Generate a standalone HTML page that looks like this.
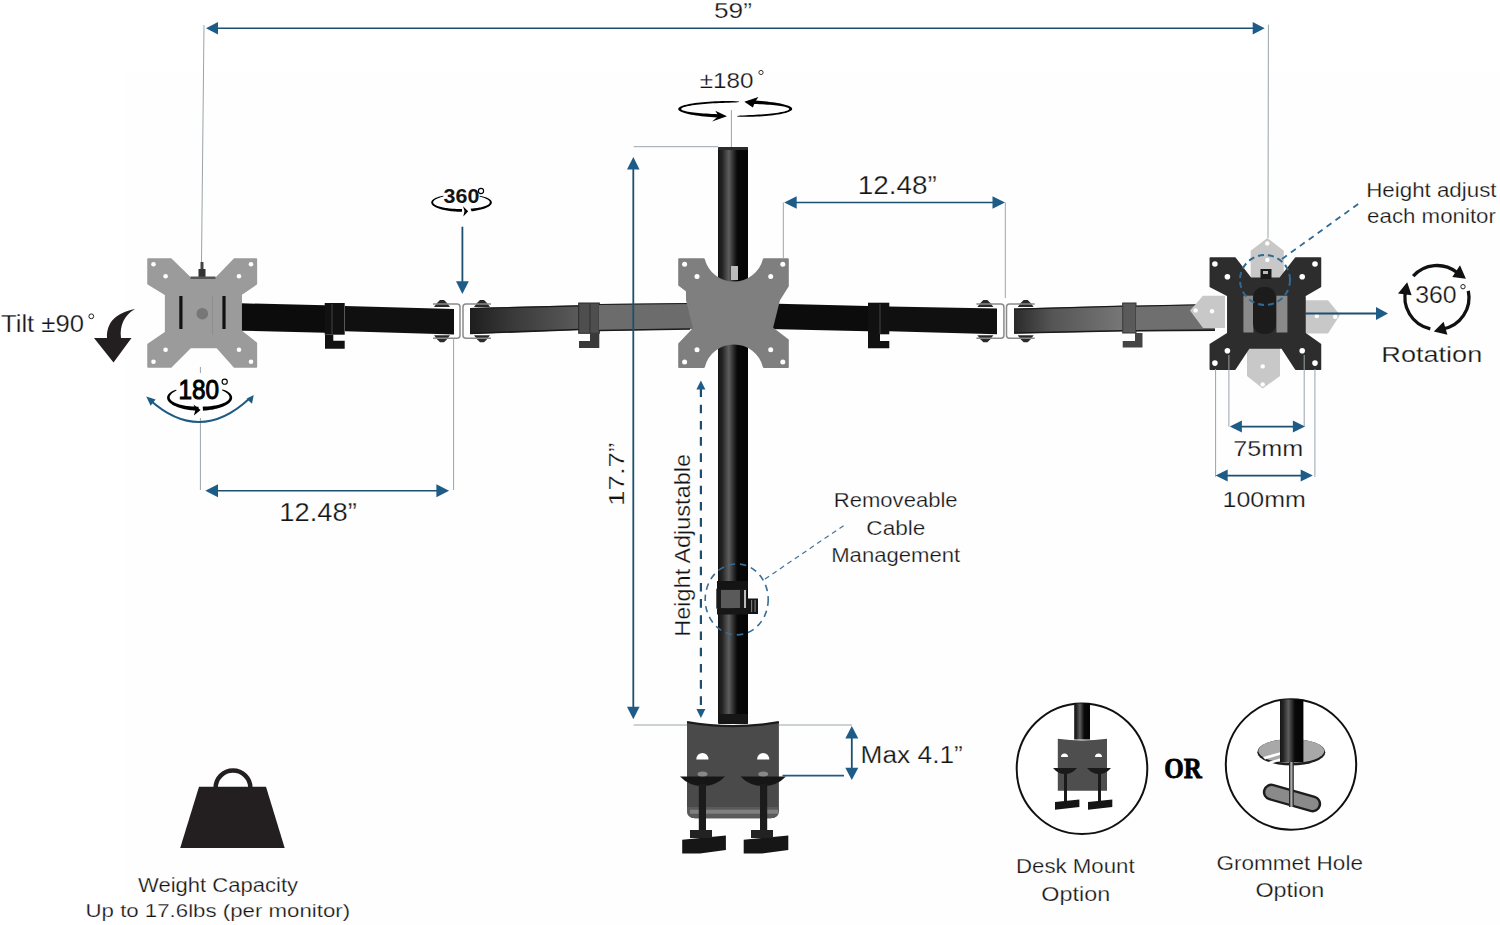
<!DOCTYPE html>
<html><head><meta charset="utf-8"><title>Triple monitor mount</title>
<style>html,body{margin:0;padding:0;background:#fff;} svg{display:block;}</style></head>
<body><svg width="1500" height="925" viewBox="0 0 1500 925">
<defs>
<linearGradient id="pole" x1="0" x2="1" y1="0" y2="0">
 <stop offset="0" stop-color="#141414"/><stop offset="0.15" stop-color="#262626"/>
 <stop offset="0.36" stop-color="#5e5e5e"/><stop offset="0.52" stop-color="#2c2c2c"/>
 <stop offset="0.64" stop-color="#080808"/><stop offset="1" stop-color="#050505"/>
</linearGradient>
<linearGradient id="armg1" x1="0" x2="1" y1="0" y2="0">
 <stop offset="0" stop-color="#1e1e1e"/><stop offset="0.4" stop-color="#3a3a3a"/><stop offset="1" stop-color="#5a5a5a"/>
</linearGradient>
<linearGradient id="armg2" x1="0" x2="1" y1="0" y2="0">
 <stop offset="0" stop-color="#2a2a2a"/><stop offset="0.35" stop-color="#555"/><stop offset="1" stop-color="#777"/>
</linearGradient>
<linearGradient id="blk" x1="0" x2="1" y1="0" y2="0">
 <stop offset="0" stop-color="#0b0b0b"/><stop offset="1" stop-color="#161616"/>
</linearGradient>
</defs>
<rect x="0" y="0" width="1500" height="925" fill="#ffffff"/>
<rect x="125" y="72" width="1375" height="853" fill="#fefefe"/>
<line x1="204" y1="25" x2="201.5" y2="262" stroke="#9aa4a8" stroke-width="1"/>
<line x1="1268.4" y1="24.7" x2="1268" y2="238" stroke="#9aa4a8" stroke-width="1"/>
<line x1="217" y1="28.3" x2="1253.7" y2="28.3" stroke="#1d4f70" stroke-width="1.4"/>
<polygon points="206,28.3 218,22.0 218,34.6" fill="#1e5c88"/>
<polygon points="1264.7,28.3 1252.7,22.0 1252.7,34.6" fill="#1e5c88"/>
<rect x="718" y="147.5" width="30" height="576" fill="url(#pole)"/>
<rect x="718" y="147" width="30" height="3" rx="1" fill="#2a2a2a"/>
<polygon points="241,303.3 325,305.3 325,332.7 241,330.7" fill="#0c0c0c" />
<polygon points="345,306 454,309 454,334.5 345,331.3" fill="#101010" />
<rect x="324.7" y="303" width="20" height="31.7" fill="#111"/>
<line x1="332" y1="304" x2="332" y2="334" stroke="#444" stroke-width="1"/>
<polygon points="325,334.7 333.3,334.7 333.3,340.7 344.7,340.7 344.7,348.7 325,348.7" fill="#111" />
<polygon points="470,308 579,305.3 579,330 470,334" fill="url(#armg1)" />
<line x1="470" y1="308.5" x2="579" y2="305.8" stroke="#1a1a1a" stroke-width="1.2"/><line x1="470" y1="333.5" x2="579" y2="329.5" stroke="#1a1a1a" stroke-width="1.56"/>
<path d="M434,307 L437,303 L440,300 L444,300 L447,303 L450,307 Z" fill="#2a2a2a"/><path d="M434,335.3 L437,339.3 L440,342.3 L444,342.3 L447,339.3 L450,335.3 Z" fill="#2a2a2a"/><path d="M474,307 L477,303 L480,300 L484,300 L487,303 L490,307 Z" fill="#2a2a2a"/><path d="M474,335.3 L477,339.3 L480,342.3 L484,342.3 L487,339.3 L490,335.3 Z" fill="#2a2a2a"/><rect x="454" y="305" width="5" height="32.30000000000001" fill="#fff"/><rect x="464" y="305" width="6" height="32.30000000000001" fill="#fff"/><path d="M433,304 L457,304 Q460,304 460,307 L460,335.3 Q460,338.3 457,338.3 L433,338.3" fill="none" stroke="#8a8a8a" stroke-width="1.5"/><path d="M491,304 L466,304 Q463,304 463,307 L463,335.3 Q463,338.3 466,338.3 L491,338.3" fill="none" stroke="#8a8a8a" stroke-width="1.5"/>
<rect x="578.7" y="303" width="20.6" height="30.3" fill="#4e4e4e" stroke="#2a2a2a" stroke-width="1"/>
<line x1="590" y1="304" x2="590" y2="333" stroke="#2f2f2f" stroke-width="1"/>
<polygon points="590,333 599.3,333 599.3,348 579,348 579,341 590,341" fill="#3a3a3a" />
<polygon points="599,304 700,303 700,329 599,331" fill="#6c6c6c" />
<line x1="599" y1="304.5" x2="690" y2="303.5" stroke="#1a1a1a" stroke-width="1.2"/><line x1="599" y1="330.5" x2="690" y2="329.0" stroke="#1a1a1a" stroke-width="1.56"/>
<polygon points="768,303.6 868,306 868,331.3 768,329" fill="#0c0c0c" />
<rect x="868" y="302.7" width="21.3" height="31.6" fill="#111"/>
<line x1="880" y1="304" x2="880" y2="334" stroke="#444" stroke-width="1"/>
<polygon points="868,334 880,334 880,341 889.3,341 889.3,348.2 868,348.2" fill="#111" />
<polygon points="889,306.4 997,308.6 997,334.3 889,331.3" fill="#101010" />
<polygon points="1014,308.6 1122.7,305.7 1122.7,331.3 1014,333.5" fill="url(#armg2)" />
<line x1="1014" y1="309.1" x2="1122.7" y2="306.2" stroke="#1a1a1a" stroke-width="1.2"/><line x1="1014" y1="333.0" x2="1122.7" y2="330.8" stroke="#1a1a1a" stroke-width="1.56"/>
<path d="M977.4,307 L980.4,303 L983.4,300 L987.4,300 L990.4,303 L993.4,307 Z" fill="#2a2a2a"/><path d="M977.4,335.3 L980.4,339.3 L983.4,342.3 L987.4,342.3 L990.4,339.3 L993.4,335.3 Z" fill="#2a2a2a"/><path d="M1017.7,307 L1020.7,303 L1023.7,300 L1027.7,300 L1030.7,303 L1033.7,307 Z" fill="#2a2a2a"/><path d="M1017.7,335.3 L1020.7,339.3 L1023.7,342.3 L1027.7,342.3 L1030.7,339.3 L1033.7,335.3 Z" fill="#2a2a2a"/><rect x="997.4" y="305" width="5.5" height="32.30000000000001" fill="#fff"/><rect x="1007.5" y="305" width="6.2000000000000455" height="32.30000000000001" fill="#fff"/><path d="M976.4,304 L1000.9,304 Q1003.9,304 1003.9,307 L1003.9,335.3 Q1003.9,338.3 1000.9,338.3 L976.4,338.3" fill="none" stroke="#8a8a8a" stroke-width="1.5"/><path d="M1034.7,304 L1009.5,304 Q1006.5,304 1006.5,307 L1006.5,335.3 Q1006.5,338.3 1009.5,338.3 L1034.7,338.3" fill="none" stroke="#8a8a8a" stroke-width="1.5"/>
<rect x="1122.7" y="303" width="13.3" height="30" fill="#5a5a5a" stroke="#333" stroke-width="1"/>
<polygon points="1135,333 1142.5,333 1142.5,347.5 1122.7,347.5 1122.7,341 1135,341" fill="#444" />
<polygon points="1136,305.7 1215,304 1215,330.6 1136,331.3" fill="#6f6f6f" />
<line x1="1136" y1="306.2" x2="1215" y2="304.5" stroke="#1a1a1a" stroke-width="1.2"/><line x1="1136" y1="330.8" x2="1215" y2="330.1" stroke="#1a1a1a" stroke-width="1.56"/>
<polygon points="148,259 171,259 190.5,278 216,278 234.4,259 256.4,259 256.4,284 241.2,294.5 241.2,331 256.4,343 256.4,367 234.4,367 217,347.5 190.5,347.5 171,367 148,367 148,344.4 165.6,332.3 165.6,294.5 148,283.9" fill="#9b9b9b" stroke="#9b9b9b" stroke-width="1.5" stroke-linejoin="round"/>
<rect x="200.5" y="262" width="3" height="8" fill="#444"/><rect x="198.5" y="269" width="7" height="8" fill="#333"/><rect x="190.5" y="276.5" width="25" height="2.5" fill="#555"/>
<circle cx="153.5" cy="264.2" r="2.3" fill="#fff"/><circle cx="165.6" cy="276.3" r="2.3" fill="#fff"/><circle cx="239" cy="276.3" r="2.3" fill="#fff"/><circle cx="251" cy="264.2" r="2.3" fill="#fff"/><circle cx="165.6" cy="349.7" r="2.3" fill="#fff"/><circle cx="153.5" cy="361.8" r="2.3" fill="#fff"/><circle cx="239" cy="349.7" r="2.3" fill="#fff"/><circle cx="251" cy="361.8" r="2.3" fill="#fff"/>
<rect x="179.3" y="296" width="3.2" height="33" fill="#111"/><rect x="222.4" y="296" width="3.2" height="33" fill="#111"/>
<circle cx="202.3" cy="313.7" r="5.8" fill="#777"/>
<line x1="212.5" y1="296" x2="212.5" y2="335" stroke="#8a8a8a" stroke-width="0.8"/>
<path d="M679.2,259.2 L703.8,259.2 A31 31 0 0 0 763.9,259.2 L787.8,259.2 L787.8,286 L779,300 L772,328 L787.8,340 L787.8,366.9 L763.9,366.9 A31 31 0 0 0 703.8,366.9 L679.2,366.9 L679.2,344 L694,328.5 L687,300 L687,291 L679.2,285 Z" fill="#7f7f7f" stroke="#7f7f7f" stroke-width="2" stroke-linejoin="round"/>
<circle cx="684.6" cy="264.2" r="2.5" fill="#fff"/><circle cx="697" cy="276.4" r="2.5" fill="#fff"/><circle cx="770.7" cy="276.4" r="2.5" fill="#fff"/><circle cx="782.8" cy="264.2" r="2.5" fill="#fff"/><circle cx="697" cy="349.7" r="2.5" fill="#fff"/><circle cx="684.6" cy="361.9" r="2.5" fill="#fff"/><circle cx="770.7" cy="349.7" r="2.5" fill="#fff"/><circle cx="782.8" cy="361.9" r="2.5" fill="#fff"/>
<rect x="731" y="266" width="7" height="14" fill="#bbb"/>
<polygon points="1250.7,250.7 1267.3,237.9 1283.8,250.7 1283.8,290 1250.7,290" fill="#c8c8c8" />
<polygon points="1190,310.4 1203,295.7 1225,295.7 1225,327.9 1203,327.9" fill="#c8c8c8" />
<polygon points="1305,300.3 1328,300.3 1340,315 1328,333.4 1305,333.4" fill="#c8c8c8" />
<polygon points="1247,340 1280,340 1280,376 1262.7,388.5 1247,376" fill="#c8c8c8" />
<circle cx="1267.3" cy="243.4" r="2.2" fill="#fff"/><circle cx="1267.3" cy="259.9" r="2.2" fill="#fff"/><circle cx="1195.6" cy="310.4" r="2.2" fill="#fff"/><circle cx="1212" cy="311.3" r="2.2" fill="#fff"/><circle cx="1316.8" cy="316" r="2.2" fill="#fff"/><circle cx="1335.2" cy="316.8" r="2.2" fill="#fff"/><circle cx="1262.7" cy="366.4" r="2.2" fill="#fff"/><circle cx="1262.7" cy="384.4" r="2.2" fill="#fff"/>
<polygon points="1210.3,258 1235,258 1250.7,278.3 1280,278.3 1295.7,258 1320.5,258 1320.5,286.5 1305,295.7 1305,333.4 1320.5,344.4 1320.5,369.2 1295.7,369.2 1282,348 1248.9,348 1235,369.2 1210.3,369.2 1210.3,344.4 1227.8,333.4 1227.8,295.7 1210.3,286.5" fill="#2d2d2d" stroke="#2d2d2d" stroke-width="1.5" stroke-linejoin="round"/>
<rect x="1243.4" y="295.7" width="10" height="36.8" fill="#8a8a8a"/><rect x="1276.4" y="295.7" width="11" height="36.8" fill="#8a8a8a"/>
<rect x="1253" y="287" width="23" height="47" rx="10" fill="#1c1c1c"/>
<rect x="1260.5" y="269" width="11" height="10" fill="#1a1a1a"/><rect x="1263" y="271" width="5" height="3" fill="#bbb"/>
<circle cx="1214.9" cy="264" r="2.8" fill="#fff"/><circle cx="1227.4" cy="276.8" r="2.8" fill="#fff"/><circle cx="1302.2" cy="276.8" r="2.8" fill="#fff"/><circle cx="1315" cy="264" r="2.8" fill="#fff"/><circle cx="1227.4" cy="350.8" r="2.8" fill="#fff"/><circle cx="1214.9" cy="363.1" r="2.8" fill="#fff"/><circle cx="1302.2" cy="350.8" r="2.8" fill="#fff"/><circle cx="1315" cy="363.1" r="2.8" fill="#fff"/>
<line x1="783.3" y1="202.5" x2="783.3" y2="259" stroke="#9aa4a8" stroke-width="1"/>
<line x1="1005.3" y1="202.5" x2="1005.3" y2="298" stroke="#9aa4a8" stroke-width="1"/>
<line x1="795.7" y1="202.5" x2="993.5" y2="202.5" stroke="#1d4f70" stroke-width="1.6"/>
<polygon points="784.2,202.5 796.7,196.25 796.7,208.75" fill="#1e5c88"/>
<polygon points="1005,202.5 992.5,196.25 992.5,208.75" fill="#1e5c88"/>
<line x1="200.4" y1="367" x2="200.4" y2="373" stroke="#9aa4a8" stroke-width="1"/>
<line x1="200.4" y1="418" x2="200.4" y2="490" stroke="#9aa4a8" stroke-width="1"/>
<line x1="453.6" y1="338" x2="453.6" y2="490" stroke="#9aa4a8" stroke-width="1"/>
<line x1="217.0" y1="490.8" x2="437.40000000000003" y2="490.8" stroke="#1d4f70" stroke-width="1.6"/>
<polygon points="205.3,490.8 218.0,484.3 218.0,497.3" fill="#1e5c88"/>
<polygon points="449.1,490.8 436.40000000000003,484.3 436.40000000000003,497.3" fill="#1e5c88"/>
<circle cx="481" cy="191" r="2.6" fill="none" stroke="#000" stroke-width="1.1"/>
<polygon points="443.25,195.82 441.96,195.98 440.77,196.24 439.65,196.52 438.58,196.83 437.58,197.16 436.65,197.51 435.78,197.87 434.98,198.26 434.26,198.65 433.61,199.06 433.03,199.48 432.53,199.92 432.11,200.36 431.77,200.81 431.51,201.26 431.33,201.72 431.23,202.19 431.22,202.66 431.29,203.12 431.44,203.59 431.67,204.06 431.98,204.52 432.38,204.98 432.85,205.44 433.40,205.88 434.03,206.32 434.74,206.75 435.51,207.17 436.36,207.58 437.28,207.97 438.26,208.35 439.31,208.72 440.42,209.07 441.59,209.40 442.81,209.71 444.08,210.01 445.40,210.28 446.77,210.54 448.18,210.77 449.62,210.98 451.10,211.17 452.61,211.33 454.14,211.47 455.69,211.59 457.27,211.68 458.85,211.74 460.44,211.78 462.04,211.80 461.99,209.00 460.54,209.01 459.09,209.00 457.64,208.97 456.21,208.92 454.79,208.86 453.38,208.78 452.00,208.68 450.64,208.57 449.31,208.43 448.01,208.29 446.74,208.12 445.52,207.94 444.33,207.74 443.19,207.53 442.10,207.30 441.07,207.06 440.08,206.81 439.15,206.54 438.29,206.26 437.48,205.97 436.74,205.67 436.06,205.36 435.45,205.04 434.91,204.71 434.44,204.37 434.05,204.02 433.72,203.67 433.48,203.32 433.30,202.96 433.20,202.60 433.18,202.23 433.24,201.87 433.37,201.50 433.57,201.13 433.85,200.77 434.21,200.41 434.64,200.05 435.14,199.69 435.71,199.34 436.36,198.99 437.07,198.65 437.84,198.32 438.68,197.99 439.58,197.67 440.54,197.36 441.55,197.05 442.61,196.74 443.68,196.37" fill="#000"/><polygon points="468.2,211.3 463,206.3 464.5,211 463.3,216.5" fill="#000"/>
<polygon points="471.49,211.29 472.78,211.13 474.04,210.96 475.27,210.77 476.48,210.56 477.65,210.34 478.80,210.10 479.90,209.85 480.97,209.58 482.00,209.30 482.98,209.01 483.93,208.70 484.82,208.38 485.67,208.05 486.47,207.71 487.22,207.36 487.92,207.00 488.56,206.64 489.15,206.26 489.69,205.88 490.16,205.49 490.58,205.10 490.94,204.70 491.24,204.30 491.48,203.90 491.65,203.50 491.77,203.09 491.83,202.69 491.83,202.28 491.76,201.88 491.63,201.48 491.45,201.08 491.20,200.69 490.89,200.30 490.53,199.92 490.10,199.55 489.62,199.18 489.09,198.83 488.49,198.48 487.85,198.14 487.15,197.81 486.40,197.50 485.59,197.20 484.74,196.91 483.85,196.64 482.90,196.38 481.92,196.15 480.88,195.94 479.75,195.82 479.32,196.37 480.23,196.70 481.14,196.97 482.03,197.24 482.87,197.51 483.68,197.78 484.44,198.06 485.15,198.34 485.82,198.63 486.44,198.92 487.01,199.21 487.53,199.51 487.99,199.82 488.41,200.12 488.77,200.43 489.07,200.74 489.32,201.06 489.52,201.37 489.66,201.68 489.74,202.00 489.77,202.31 489.74,202.62 489.66,202.93 489.52,203.24 489.32,203.54 489.07,203.84 488.76,204.14 488.40,204.43 487.99,204.71 487.53,204.99 487.01,205.27 486.44,205.54 485.83,205.80 485.17,206.05 484.46,206.29 483.70,206.53 482.90,206.76 482.06,206.97 481.18,207.18 480.26,207.38 479.30,207.56 478.31,207.74 477.29,207.90 476.24,208.06 475.15,208.20 474.05,208.33 472.91,208.44 471.76,208.55 470.58,208.64" fill="#000"/><line x1="462.4" y1="226.7" x2="462.4" y2="282.2" stroke="#1d4f70" stroke-width="1.8"/>
<polygon points="462.4,293.9 456.0,281.2 468.79999999999995,281.2" fill="#1e5c88"/>
<circle cx="91.3" cy="316.3" r="2.4" fill="none" stroke="#231f20" stroke-width="1"/>
<path d="M94,338 L107,338 C106.5,322 116,313 135,309 C124,315 119.5,326 121,338 L131.5,338 L113.5,362.5 Z" fill="#231f20"/>
<circle cx="224.7" cy="381.7" r="2.6" fill="none" stroke="#000" stroke-width="1.1"/>
<polygon points="176.12,389.74 174.97,390.01 173.96,390.39 173.03,390.81 172.17,391.26 171.36,391.73 170.63,392.21 169.96,392.72 169.36,393.24 168.82,393.78 168.36,394.33 167.97,394.89 167.64,395.45 167.39,396.03 167.22,396.61 167.11,397.20 167.09,397.79 167.13,398.38 167.25,398.98 167.44,399.57 167.70,400.16 168.04,400.75 168.44,401.33 168.92,401.91 169.47,402.47 170.09,403.03 170.77,403.58 171.52,404.12 172.34,404.64 173.21,405.15 174.15,405.64 175.15,406.12 176.20,406.57 177.30,407.01 178.46,407.43 179.66,407.83 180.92,408.20 182.21,408.55 183.55,408.88 184.92,409.18 186.33,409.46 187.77,409.71 189.24,409.94 190.73,410.13 192.24,410.30 193.77,410.44 195.32,410.56 196.88,410.64 198.44,410.69 198.58,406.69 197.20,406.69 195.83,406.66 194.46,406.61 193.10,406.54 191.75,406.45 190.42,406.34 189.11,406.20 187.82,406.05 186.56,405.88 185.32,405.69 184.11,405.49 182.94,405.26 181.80,405.01 180.70,404.75 179.64,404.47 178.62,404.17 177.65,403.86 176.73,403.53 175.85,403.19 175.03,402.83 174.26,402.46 173.55,402.08 172.89,401.68 172.29,401.28 171.75,400.86 171.27,400.44 170.85,400.00 170.50,399.56 170.21,399.11 169.99,398.65 169.83,398.19 169.73,397.73 169.70,397.26 169.74,396.79 169.84,396.32 170.01,395.85 170.25,395.38 170.54,394.91 170.91,394.44 171.33,393.97 171.82,393.51 172.37,393.05 172.98,392.60 173.64,392.15 174.36,391.70 175.13,391.26 175.94,390.81 176.71,390.27" fill="#000"/><polygon points="200.6,410 193.5,404.4 195.5,409.5 193.9,415.4" fill="#000"/>
<polygon points="203.07,410.63 204.60,410.53 206.12,410.41 207.62,410.26 209.10,410.08 210.56,409.87 212.00,409.64 213.41,409.39 214.78,409.10 216.12,408.79 217.42,408.46 218.69,408.11 219.91,407.73 221.08,407.34 222.21,406.92 223.29,406.48 224.31,406.02 225.28,405.55 226.19,405.06 227.04,404.56 227.83,404.04 228.56,403.51 229.23,402.97 229.82,402.42 230.36,401.85 230.82,401.29 231.22,400.71 231.54,400.13 231.80,399.55 231.99,398.96 232.10,398.38 232.14,397.79 232.11,397.21 232.02,396.63 231.84,396.05 231.60,395.48 231.29,394.92 230.91,394.37 230.46,393.83 229.95,393.30 229.36,392.78 228.71,392.28 228.00,391.79 227.22,391.32 226.39,390.87 225.49,390.45 224.53,390.05 223.50,389.69 222.33,389.44 221.76,390.00 222.55,390.52 223.39,390.96 224.19,391.39 224.95,391.82 225.65,392.25 226.30,392.70 226.89,393.14 227.42,393.59 227.89,394.04 228.30,394.50 228.66,394.96 228.94,395.42 229.17,395.88 229.33,396.35 229.43,396.81 229.47,397.27 229.44,397.73 229.35,398.19 229.19,398.64 228.97,399.08 228.69,399.53 228.35,399.96 227.94,400.39 227.48,400.81 226.96,401.22 226.37,401.62 225.74,402.01 225.04,402.39 224.29,402.75 223.49,403.10 222.64,403.44 221.75,403.77 220.80,404.08 219.81,404.38 218.78,404.66 217.71,404.92 216.60,405.16 215.46,405.39 214.28,405.60 213.07,405.80 211.84,405.97 210.58,406.13 209.30,406.26 207.99,406.38 206.68,406.48 205.34,406.55 204.00,406.61 202.65,406.65" fill="#000"/><path d="M150,400 Q200,445 250,398" fill="none" stroke="#1d5b83" stroke-width="2"/>
<polygon points="146.3,396.6 155.6,399.4 150.6,405.8" fill="#1d5b83"/><polygon points="253.7,394.9 252,403.8 246.6,398.8" fill="#1d5b83"/>
<circle cx="761" cy="72.5" r="2.1" fill="none" stroke="#231f20" stroke-width="0.9"/>
<line x1="731.4" y1="110" x2="731.4" y2="147" stroke="#9aa4a8" stroke-width="1"/>
<polygon points="739.09,101.52 735.67,101.18 732.22,101.09 728.77,101.06 725.33,101.07 721.93,101.12 718.58,101.21 715.28,101.33 712.06,101.49 708.92,101.68 705.87,101.90 702.94,102.15 700.12,102.43 697.44,102.74 694.89,103.08 692.50,103.44 690.26,103.83 688.20,104.23 686.31,104.66 684.61,105.11 683.09,105.58 681.77,106.06 680.66,106.55 679.75,107.06 679.04,107.57 678.55,108.10 678.28,108.63 678.22,109.16 678.37,109.70 678.74,110.23 679.33,110.76 680.12,111.29 681.13,111.81 682.34,112.32 683.75,112.82 685.35,113.31 687.15,113.78 689.12,114.24 691.27,114.67 693.59,115.09 696.07,115.49 698.70,115.86 701.46,116.21 704.36,116.53 707.37,116.82 710.49,117.08 713.71,117.32 717.00,117.52 720.37,117.69 721.30,114.22 718.14,114.13 715.04,114.03 712.01,113.91 709.07,113.76 706.23,113.60 703.50,113.42 700.88,113.23 698.39,113.02 696.04,112.79 693.84,112.54 691.79,112.28 689.90,112.01 688.18,111.72 686.64,111.43 685.28,111.12 684.11,110.80 683.13,110.47 682.35,110.14 681.77,109.80 681.38,109.45 681.20,109.11 681.22,108.75 681.45,108.40 681.88,108.05 682.51,107.70 683.34,107.35 684.36,107.00 685.58,106.66 686.98,106.33 688.57,106.00 690.34,105.68 692.27,105.37 694.37,105.08 696.62,104.79 699.02,104.52 701.56,104.26 704.23,104.01 707.01,103.78 709.91,103.57 712.90,103.37 715.98,103.19 719.14,103.03 722.36,102.88 725.63,102.75 728.95,102.64 732.29,102.53 735.66,102.42 739.05,102.12" fill="#000"/><polygon points="737.15,116.50 740.44,116.78 743.71,116.83 746.96,116.82 750.18,116.77 753.35,116.68 756.46,116.55 759.50,116.40 762.46,116.21 765.33,116.00 768.10,115.75 770.76,115.48 773.30,115.19 775.71,114.87 777.98,114.53 780.10,114.16 782.08,113.78 783.89,113.37 785.54,112.95 787.01,112.51 788.31,112.05 789.43,111.59 790.36,111.11 791.10,110.62 791.65,110.13 792.01,109.63 792.17,109.12 792.13,108.61 791.91,108.10 791.48,107.59 790.86,107.09 790.05,106.59 789.06,106.09 787.87,105.61 786.51,105.13 784.97,104.67 783.25,104.22 781.38,103.78 779.34,103.37 777.15,102.96 774.81,102.58 772.34,102.22 769.74,101.89 767.02,101.57 764.18,101.28 761.25,101.02 758.23,100.78 755.13,100.57 751.95,100.39 750.90,103.84 753.88,103.93 756.80,104.03 759.65,104.16 762.41,104.30 765.09,104.46 767.66,104.63 770.12,104.82 772.46,105.03 774.68,105.25 776.76,105.48 778.71,105.73 780.50,105.99 782.14,106.26 783.62,106.54 784.94,106.84 786.08,107.14 787.06,107.45 787.85,107.76 788.47,108.09 788.90,108.41 789.15,108.74 789.22,109.08 789.10,109.42 788.80,109.75 788.31,110.09 787.65,110.42 786.80,110.76 785.78,111.09 784.58,111.41 783.21,111.73 781.68,112.04 779.98,112.35 778.14,112.64 776.14,112.93 774.01,113.20 771.74,113.47 769.34,113.72 766.82,113.96 764.20,114.19 761.47,114.40 758.65,114.60 755.74,114.79 752.77,114.96 749.73,115.12 746.63,115.26 743.49,115.40 740.32,115.55 737.13,115.90" fill="#000"/><polygon points="727,116.2 715.3,110.7 718.5,116 712.1,121.6" fill="#000"/>
<polygon points="744.3,101.7 758.4,97 755,102 752.9,107.5" fill="#000"/>
<line x1="633.7" y1="146.7" x2="718" y2="146.7" stroke="#9aa4a8" stroke-width="1"/>
<line x1="633.3" y1="168.5" x2="633.3" y2="707.7" stroke="#1d4f70" stroke-width="1.8"/>
<polygon points="633.3,157 627.0,169.5 639.5999999999999,169.5" fill="#1e5c88"/>
<polygon points="633.3,719.2 627.0,706.7 639.5999999999999,706.7" fill="#1e5c88"/>
<line x1="633.6" y1="725" x2="687" y2="725" stroke="#9aa4a8" stroke-width="1"/>
<line x1="700.9" y1="388.5" x2="700.9" y2="710" stroke="#1d4f70" stroke-width="2.2" stroke-dasharray="8.6 7.6"/>
<polygon points="700.9,380.5 696.4,389.5 705.4,389.5" fill="#1e5c88"/>
<polygon points="700.9,718 696.4,709 705.4,709" fill="#1e5c88"/>
<rect x="717" y="581" width="31" height="8" fill="#141414"/><rect x="716.3" y="588.7" width="31" height="20" fill="#1a1a1a"/><rect x="721" y="590" width="19" height="18" fill="#5a5a5a"/><rect x="744" y="590" width="2" height="18" fill="#bbb"/><rect x="717" y="608.5" width="31" height="6" fill="#161616"/><rect x="747" y="598.5" width="11" height="15.5" fill="#151515"/><rect x="751" y="600" width="1.2" height="12" fill="#777"/><rect x="754.5" y="600" width="1.2" height="12" fill="#777"/>
<ellipse cx="736.7" cy="599.4" rx="31.5" ry="35.5" fill="none" stroke="#3a6d95" stroke-width="1.6" stroke-dasharray="6.5 5"/>
<line x1="765" y1="579" x2="843.8" y2="525.5" stroke="#45739a" stroke-width="1.2" stroke-dasharray="5 4"/>
<path d="M687,722.2 Q733,730 778.9,722.2 L778.9,810 Q778.9,818.3 770.6,818.3 L695,818.3 Q687,818.3 687,810 Z" fill="#4a4a4a"/>
<path d="M687,722.2 Q733,730 778.9,722.2" fill="none" stroke="#1c1c1c" stroke-width="2.2"/>
<rect x="718.6" y="714" width="29.2" height="10" fill="#161616"/>
<path d="M696.3,759.4 L708.5,759.4 A6.1 6.4 0 0 0 696.3,759.4 Z" fill="#fff"/><path d="M757.1,759.4 L769.3,759.4 A6.1 6.4 0 0 0 757.1,759.4 Z" fill="#fff"/>
<path d="M687,807 L778.9,807 L778.9,810 Q778.9,818.3 770.6,818.3 L695.3,818.3 Q687,818.3 687,810 Z" fill="#5a5a5a"/>
<rect x="690" y="809.7" width="88" height="4" fill="#808080"/>
<path d="M680,776.5 L725.1,776.5 Q716,786 702.5,786 Q689,786 680,776.5 Z" fill="#161616"/><path d="M740.5,776.5 L785.9,776.5 Q777,786 763.2,786 Q749.5,786 740.5,776.5 Z" fill="#161616"/>
<ellipse cx="702.5" cy="774" rx="5" ry="2.5" fill="#888"/><ellipse cx="763.2" cy="774" rx="5" ry="2.5" fill="#888"/>
<rect x="698.8" y="784" width="7.2" height="50" fill="#1b1b1b"/><rect x="760" y="784" width="7.2" height="50" fill="#1b1b1b"/>
<path d="M682.2,839.7 L725.9,835.6 L725.9,850 L700,853.6 L682.2,853.6 Z" fill="#161616"/><path d="M743.7,839.7 L788.3,835.6 L788.3,850 L762,853.6 L743.7,853.6 Z" fill="#161616"/>
<rect x="690" y="830" width="22" height="8" fill="#222"/><rect x="751" y="830" width="22" height="8" fill="#222"/>
<line x1="779" y1="725" x2="852" y2="725" stroke="#9aa4a8" stroke-width="1"/>
<line x1="782.5" y1="775.6" x2="844" y2="775.6" stroke="#1e5c88" stroke-width="1.7"/>
<line x1="851.8" y1="737.4" x2="851.8" y2="768.7" stroke="#1d4f70" stroke-width="1.8"/>
<polygon points="851.8,726.1 845.3,738.4 858.3,738.4" fill="#1e5c88"/>
<polygon points="851.8,780 845.3,767.7 858.3,767.7" fill="#1e5c88"/>
<circle cx="1265" cy="280" r="25" fill="none" stroke="#2f6a95" stroke-width="2" stroke-dasharray="6 4"/>
<line x1="1282" y1="259" x2="1359.5" y2="203" stroke="#2f6a95" stroke-width="1.8" stroke-dasharray="6 5"/>
<line x1="1305" y1="313.5" x2="1377" y2="313.5" stroke="#1d4f70" stroke-width="1.8"/>
<polygon points="1388,313.5 1376,307.0 1376,320.0" fill="#1e5c88"/>
<circle cx="1463" cy="286.7" r="2.2" fill="none" stroke="#231f20" stroke-width="1"/>
<path d="M1413.2,276.1 A32 32 0 0 1 1456.7,272.3" fill="none" stroke="#111" stroke-width="3.3"/><path d="M1468.3,290.8 A32 32 0 0 1 1442.6,329.0" fill="none" stroke="#111" stroke-width="3.3"/><path d="M1430.3,328.8 A32 32 0 0 1 1406.2,288.7" fill="none" stroke="#111" stroke-width="3.3"/>
<polygon points="1465.9,278.8 1460.0,265.2 1452.3,277.1" fill="#111"/><polygon points="1433.8,331.6 1443.6,321.8 1447.4,334.8" fill="#111"/><polygon points="1407.2,282.3 1398.0,293.6 1411.6,295.2" fill="#111"/>
<line x1="1215.6" y1="369" x2="1215.6" y2="476.8" stroke="#9aa4a8" stroke-width="1"/>
<line x1="1314.9" y1="369" x2="1314.9" y2="476.8" stroke="#9aa4a8" stroke-width="1"/>
<line x1="1228.9" y1="355" x2="1228.9" y2="426.6" stroke="#9aa4a8" stroke-width="1"/>
<line x1="1304.2" y1="355" x2="1304.2" y2="426.6" stroke="#9aa4a8" stroke-width="1"/>
<line x1="1240.8999999999999" y1="426.6" x2="1293.9" y2="426.6" stroke="#1d4f70" stroke-width="1.6"/>
<polygon points="1229.8,426.6 1241.8999999999999,420.6 1241.8999999999999,432.6" fill="#1e5c88"/>
<polygon points="1305,426.6 1292.9,420.6 1292.9,432.6" fill="#1e5c88"/>
<line x1="1226.6999999999998" y1="475.6" x2="1301.7" y2="475.6" stroke="#1d4f70" stroke-width="1.6"/>
<polygon points="1215.6,475.6 1227.6999999999998,469.6 1227.6999999999998,481.6" fill="#1e5c88"/>
<polygon points="1312.8,475.6 1300.7,469.6 1300.7,481.6" fill="#1e5c88"/>
<circle cx="1082" cy="768.7" r="65.3" fill="#fff" stroke="#111" stroke-width="2"/>
<rect x="1074.2" y="703.5" width="15.8" height="36" fill="url(#pole)"/>
<path d="M1057.8,738.8 Q1082,742 1107,738.8 L1107,790.7 L1057.8,790.7 Z" fill="#4e4e4e"/>
<path d="M1061,757 A3.5 3.5 0 0 1 1068,757 Z" fill="#fff"/><path d="M1095,757 A3.5 3.5 0 0 1 1102,757 Z" fill="#fff"/>
<path d="M1053,768 L1077,768 Q1072,774 1065,774 Q1058,774 1053,768 Z" fill="#1a1a1a"/><path d="M1087,768 L1111,768 Q1106,774 1099,774 Q1092,774 1087,768 Z" fill="#1a1a1a"/>
<rect x="1064" y="772" width="3" height="30" fill="#1a1a1a"/><rect x="1098" y="772" width="3" height="30" fill="#1a1a1a"/>
<path d="M1055,802 L1079.4,799.4 L1079.4,807 L1055,809.8 Z" fill="#151515"/><path d="M1088,802 L1112.3,799.4 L1112.3,807 L1088,809.8 Z" fill="#151515"/>
<circle cx="1291" cy="764.5" r="65.2" fill="#fff" stroke="#111" stroke-width="2"/>
<ellipse cx="1291.3" cy="752.2" rx="34" ry="13.3" fill="#1e1e1e"/><ellipse cx="1291.3" cy="751" rx="33" ry="12" fill="#a8a8a8"/><path d="M1263,757 L1281,752 L1281,754.5 L1265,759.5 Z" fill="#fff"/><path d="M1268,762 L1281,758 L1281,760.5 L1270,764 Z" fill="#fff"/>
<rect x="1280" y="699.5" width="23.4" height="62.7" fill="url(#pole)"/>
<g transform="translate(1292,798) rotate(16)"><rect x="-30" y="-8.5" width="60" height="17" rx="8.5" fill="#1c1c1c"/><rect x="-27.5" y="-6.2" width="55" height="12.4" rx="6.2" fill="#8a8a8a"/></g>
<rect x="1289" y="762" width="4.8" height="45" fill="#2a2a2a"/><rect x="1290.3" y="762" width="2.2" height="45" fill="#aaa"/>
<polygon points="199,786.8 266,786.8 284.7,848.1 180.2,848.1" fill="#231f20"/>
<path d="M215.6,788 A17.4 17.4 0 0 1 250.4,788" fill="none" stroke="#231f20" stroke-width="4.5"/>
<text x="713.95" y="18" font-family="Liberation Sans" font-weight="normal" font-size="21.74" fill="#141414" stroke="#ffffff" stroke-width="0.25" textLength="37.98" lengthAdjust="spacingAndGlyphs">59”</text>
<text x="699.67" y="88" font-family="Liberation Sans" font-weight="normal" font-size="22.90" fill="#141414" stroke="#ffffff" stroke-width="0.25" textLength="53.73" lengthAdjust="spacingAndGlyphs">±180</text>
<text x="857.77" y="194.2" font-family="Liberation Sans" font-weight="normal" font-size="25.36" fill="#141414" stroke="#ffffff" stroke-width="0.25" textLength="79.02" lengthAdjust="spacingAndGlyphs">12.48”</text>
<text x="279.31" y="520.7" font-family="Liberation Sans" font-weight="normal" font-size="25.22" fill="#141414" stroke="#ffffff" stroke-width="0.25" textLength="77.45" lengthAdjust="spacingAndGlyphs">12.48”</text>
<text x="0.99" y="332" font-family="Liberation Sans" font-weight="normal" font-size="24.64" fill="#141414" stroke="#ffffff" stroke-width="0.25" textLength="82.91" lengthAdjust="spacingAndGlyphs">Tilt ±90</text>
<text x="178.55" y="398.8" font-family="Liberation Sans" font-weight="normal" font-size="26.96" fill="#000" stroke="#000" stroke-width="1" textLength="40.58" lengthAdjust="spacingAndGlyphs">180</text>
<text x="443.57" y="202.9" font-family="Liberation Sans" font-weight="bold" font-size="20.87" fill="#141414" textLength="35.76" lengthAdjust="spacingAndGlyphs">360</text>
<text x="833.84" y="507.4" font-family="Liberation Sans" font-weight="normal" font-size="20.29" fill="#141414" stroke="#ffffff" stroke-width="0.25" textLength="123.74" lengthAdjust="spacingAndGlyphs">Removeable</text>
<text x="866.37" y="534.6" font-family="Liberation Sans" font-weight="normal" font-size="19.71" fill="#141414" stroke="#ffffff" stroke-width="0.25" textLength="59.10" lengthAdjust="spacingAndGlyphs">Cable</text>
<text x="831.23" y="562.4" font-family="Liberation Sans" font-weight="normal" font-size="19.71" fill="#141414" stroke="#ffffff" stroke-width="0.25" textLength="128.92" lengthAdjust="spacingAndGlyphs">Management</text>
<text x="860.60" y="763" font-family="Liberation Sans" font-weight="normal" font-size="24.35" fill="#141414" stroke="#ffffff" stroke-width="0.25" textLength="102.19" lengthAdjust="spacingAndGlyphs">Max 4.1”</text>
<text x="1366.21" y="196.8" font-family="Liberation Sans" font-weight="normal" font-size="20.72" fill="#141414" stroke="#ffffff" stroke-width="0.25" textLength="130.34" lengthAdjust="spacingAndGlyphs">Height adjust</text>
<text x="1367.11" y="223.3" font-family="Liberation Sans" font-weight="normal" font-size="20.72" fill="#141414" stroke="#ffffff" stroke-width="0.25" textLength="128.83" lengthAdjust="spacingAndGlyphs">each monitor</text>
<text x="1415.21" y="302.8" font-family="Liberation Sans" font-weight="normal" font-size="23.91" fill="#141414" stroke="#ffffff" stroke-width="0.25" textLength="41.45" lengthAdjust="spacingAndGlyphs">360</text>
<text x="1381.33" y="361.8" font-family="Liberation Sans" font-weight="normal" font-size="22.90" fill="#141414" stroke="#ffffff" stroke-width="0.25" textLength="100.92" lengthAdjust="spacingAndGlyphs">Rotation</text>
<text x="1233.34" y="456" font-family="Liberation Sans" font-weight="normal" font-size="21.30" fill="#141414" stroke="#ffffff" stroke-width="0.25" textLength="69.98" lengthAdjust="spacingAndGlyphs">75mm</text>
<text x="1222.60" y="507" font-family="Liberation Sans" font-weight="normal" font-size="21.16" fill="#141414" stroke="#ffffff" stroke-width="0.25" textLength="83.21" lengthAdjust="spacingAndGlyphs">100mm</text>
<text x="1016.02" y="873.4" font-family="Liberation Sans" font-weight="normal" font-size="20.43" fill="#141414" stroke="#ffffff" stroke-width="0.25" textLength="118.60" lengthAdjust="spacingAndGlyphs">Desk Mount</text>
<text x="1041.33" y="900.5" font-family="Liberation Sans" font-weight="normal" font-size="20.43" fill="#141414" stroke="#ffffff" stroke-width="0.25" textLength="68.82" lengthAdjust="spacingAndGlyphs">Option</text>
<text x="1164.35" y="777.6" font-family="Liberation Serif" font-weight="bold" font-size="30.00" fill="#000" stroke="#000" stroke-width="0.8" textLength="37.60" lengthAdjust="spacingAndGlyphs">OR</text>
<text x="1216.47" y="870.2" font-family="Liberation Sans" font-weight="normal" font-size="20.43" fill="#141414" stroke="#ffffff" stroke-width="0.25" textLength="146.46" lengthAdjust="spacingAndGlyphs">Grommet Hole</text>
<text x="1255.43" y="897.3" font-family="Liberation Sans" font-weight="normal" font-size="20.43" fill="#141414" stroke="#ffffff" stroke-width="0.25" textLength="68.82" lengthAdjust="spacingAndGlyphs">Option</text>
<text x="138.00" y="891.5" font-family="Liberation Sans" font-weight="normal" font-size="20.58" fill="#141414" stroke="#ffffff" stroke-width="0.25" textLength="160.06" lengthAdjust="spacingAndGlyphs">Weight Capacity</text>
<text x="85.52" y="917.3" font-family="Liberation Sans" font-weight="normal" font-size="19.28" fill="#141414" stroke="#ffffff" stroke-width="0.25" textLength="264.60" lengthAdjust="spacingAndGlyphs">Up to 17.6lbs (per monitor)</text>
<text x="0" y="0" transform="translate(623.80,505.92) rotate(-90)" font-family="Liberation Sans" font-weight="normal" font-size="22.03" fill="#141414" stroke="#ffffff" stroke-width="0.25" textLength="63.13" lengthAdjust="spacingAndGlyphs">17.7”</text>
<text x="0" y="0" transform="translate(689.50,636.68) rotate(-90)" font-family="Liberation Sans" font-weight="normal" font-size="22.46" fill="#141414" stroke="#ffffff" stroke-width="0.25" textLength="182.69" lengthAdjust="spacingAndGlyphs">Height Adjustable</text>
</svg></body></html>
